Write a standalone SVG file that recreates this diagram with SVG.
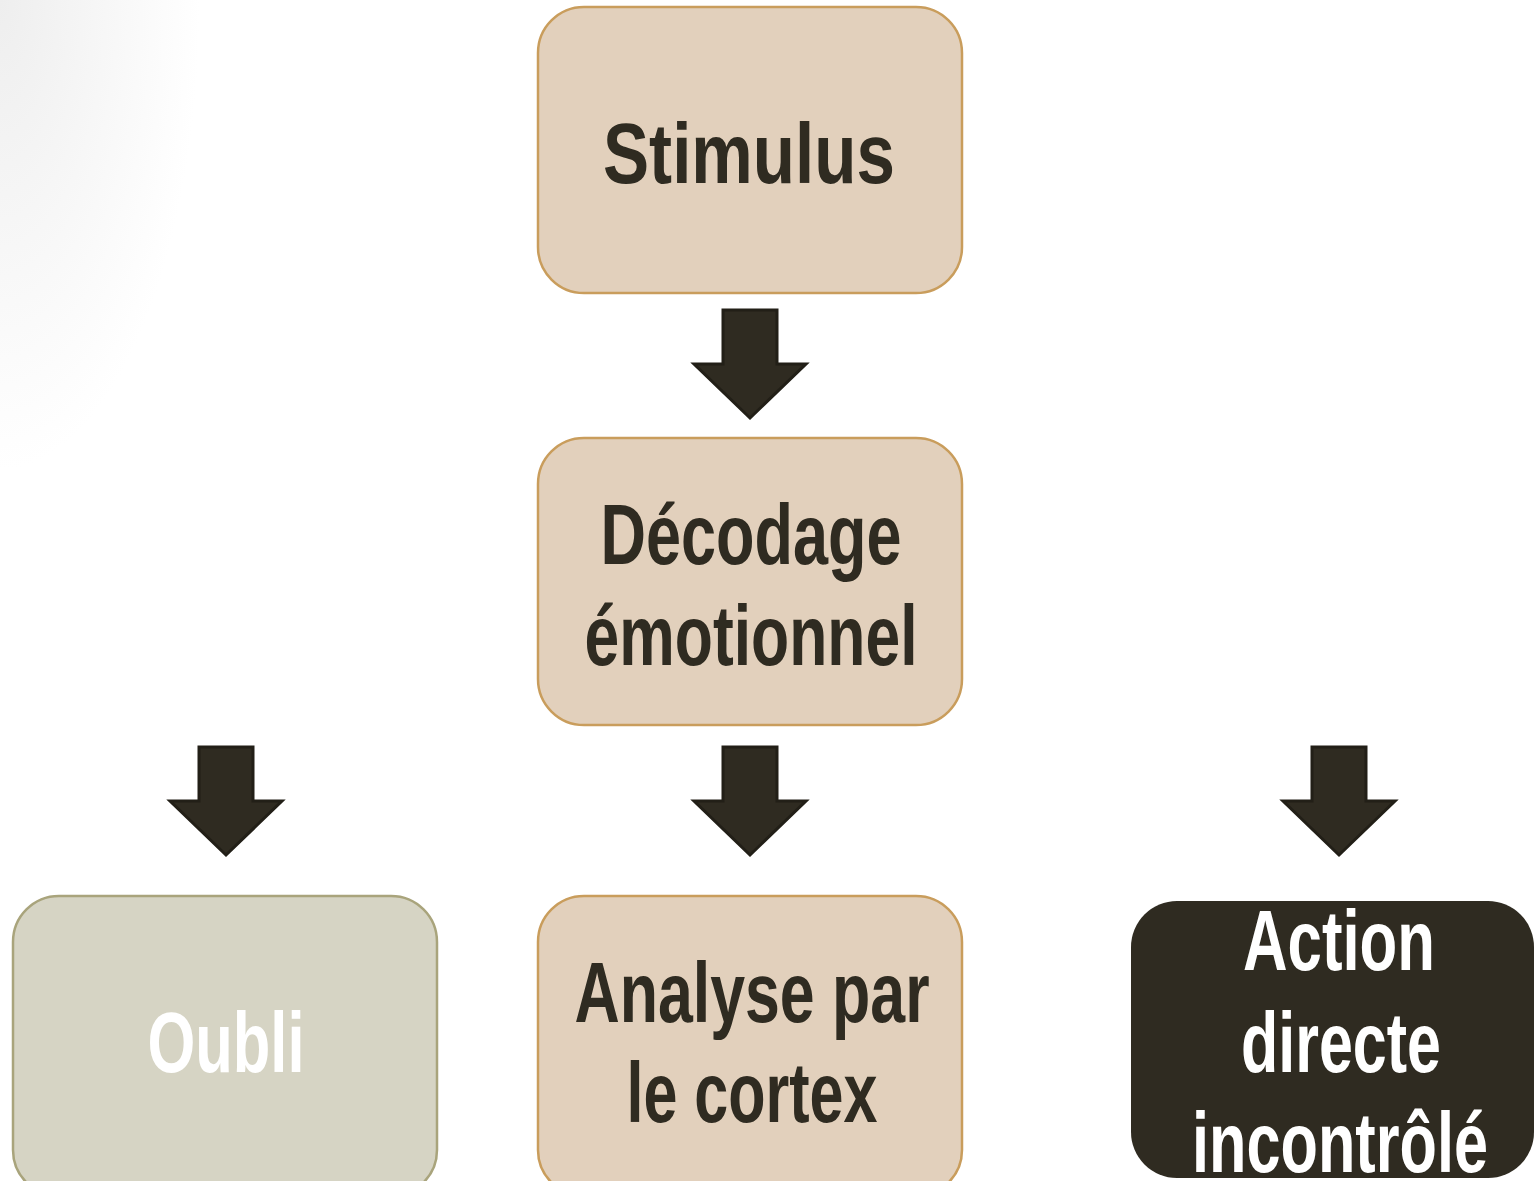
<svg xmlns="http://www.w3.org/2000/svg" width="1534" height="1181" viewBox="0 0 1534 1181">
<defs>
<radialGradient id="bg" cx="0" cy="0" r="1" gradientUnits="userSpaceOnUse" gradientTransform="translate(0,0) scale(200,470)">
<stop offset="0" stop-color="#eeeeee"/>
<stop offset="1" stop-color="#ffffff"/>
</radialGradient>
<style>
.tan{fill:#E2D0BC;stroke:#C99D5C;stroke-width:2.5}
.grey{fill:#D6D4C4;stroke:#A9A47C;stroke-width:2.5}
.dark{fill:#2F2B21}
.arrow{fill:#2F2B21;stroke:#221F17;stroke-width:3;stroke-linejoin:miter}
.t{font-family:"Liberation Sans",Arial,sans-serif;font-weight:bold;font-size:86px;text-anchor:middle}
.td{fill:#2F2B21}
.tw{fill:#FFFFFF}
</style>
</defs>
<rect width="1534" height="1181" fill="#ffffff"/>
<rect width="300" height="1181" fill="url(#bg)"/>
<g id="connectors">
<path class="arrow" d="M723,310 H777 V364 H806 L750,418 L694,364 H723 Z"/>
<path class="arrow" d="M199,747 H253 V801 H282 L226,855 L170,801 H199 Z"/>
<path class="arrow" d="M723,747 H777 V801 H806 L750,855 L694,801 H723 Z"/>
<path class="arrow" d="M1312,747 H1366 V801 H1395 L1339,855 L1283,801 H1312 Z"/>
</g>
<g id="stimulus">
<rect class="tan" x="538" y="7" width="424" height="286" rx="46"/>
<text class="t td" x="749" y="183" textLength="292" lengthAdjust="spacingAndGlyphs">Stimulus</text>
</g>
<g id="decodage">
<rect class="tan" x="538" y="438" width="424" height="287" rx="46"/>
<text class="t td" x="751" y="564" textLength="301" lengthAdjust="spacingAndGlyphs">Décodage</text>
<text class="t td" x="751" y="665" textLength="333" lengthAdjust="spacingAndGlyphs">émotionnel</text>
</g>
<g id="oubli">
<rect class="grey" x="13" y="896" width="424" height="300" rx="46"/>
<text class="t tw" x="226" y="1072" textLength="157" lengthAdjust="spacingAndGlyphs">Oubli</text>
</g>
<g id="analyse">
<rect class="tan" x="538" y="896" width="424" height="300" rx="46"/>
<text class="t td" x="752" y="1022" textLength="355" lengthAdjust="spacingAndGlyphs">Analyse par</text>
<text class="t td" x="752" y="1122" textLength="251" lengthAdjust="spacingAndGlyphs">le cortex</text>
</g>
<g id="action">
<rect class="dark" x="1131" y="901" width="403" height="277" rx="46"/>
<text class="t tw" x="1339" y="970" textLength="192" lengthAdjust="spacingAndGlyphs">Action</text>
<text class="t tw" x="1341" y="1072" textLength="200" lengthAdjust="spacingAndGlyphs">directe</text>
<text class="t tw" x="1340" y="1172" textLength="296" lengthAdjust="spacingAndGlyphs">incontrôlé</text>
</g>
</svg>
